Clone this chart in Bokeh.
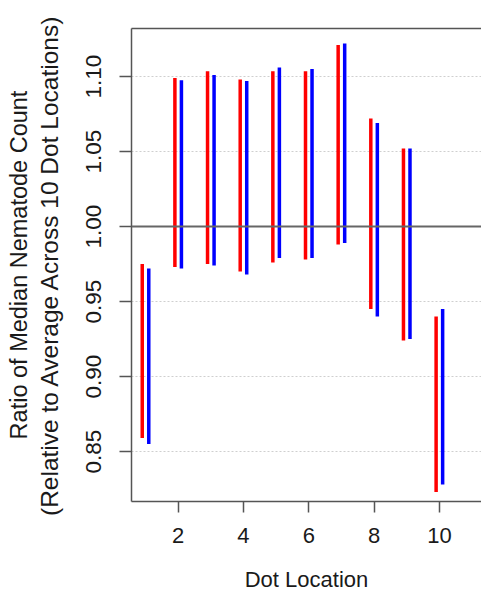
from bokeh.plotting import figure
from bokeh.models import Range1d, FixedTicker, Span, Title, LinearAxis, PrintfTickFormatter
from bokeh.embed import file_html
from bokeh.resources import INLINE

# ---- data ----
locations = [1, 2, 3, 4, 5, 6, 7, 8, 9, 10]
red_low = [0.859, 0.973, 0.975, 0.970, 0.976, 0.978, 0.988, 0.945, 0.924, 0.823]
red_high = [0.975, 1.099, 1.1035, 1.098, 1.1035, 1.1035, 1.121, 1.072, 1.052, 0.940]
blue_low = [0.855, 0.972, 0.974, 0.968, 0.979, 0.979, 0.989, 0.940, 0.925, 0.828]
blue_high = [0.972, 1.0975, 1.101, 1.097, 1.106, 1.105, 1.122, 1.069, 1.052, 0.945]
x_ticks = [2, 4, 6, 8, 10]
y_ticks = [0.85, 0.90, 0.95, 1.00, 1.05, 1.10]
grid_ticks = [0.85, 0.90, 0.95, 1.05, 1.10]
reference_line = 1.00
offset = 0.1

FONT = "Liberation Sans"
AX = "#555555"

p = figure(width=481, height=594,
           x_range=Range1d(0.571, 11.29), y_range=Range1d(0.8167, 1.132),
           output_backend="svg", toolbar_location=None,
           min_border_left=131, min_border_right=0,
           min_border_top=28, min_border_bottom=92)
p.outline_line_color = None
p.background_fill_color = "white"
p.border_fill_color = "white"

p.xgrid.visible = False
p.ygrid.ticker = FixedTicker(ticks=grid_ticks)
p.ygrid.grid_line_color = "#cfcfcf"
p.ygrid.grid_line_dash = "2 2"
p.ygrid.grid_line_width = 1

for ax in (p.xaxis[0], p.yaxis[0]):
    ax.axis_line_color = AX
    ax.axis_line_width = 1.5
    ax.major_tick_line_color = AX
    ax.major_tick_line_width = 1.5
    ax.major_tick_in = 0
    ax.minor_tick_line_color = None
    ax.major_label_text_font = FONT
    ax.major_label_text_color = "#1a1a1a"
    ax.axis_label_text_font = FONT
    ax.axis_label_text_font_style = "normal"
    ax.axis_label_text_color = "#1a1a1a"

p.xaxis.ticker = FixedTicker(ticks=x_ticks)
p.xaxis.major_tick_out = 11
p.xaxis.major_label_standoff = 15
p.xaxis.major_label_text_font_size = "22px"
p.xaxis.axis_label = "Dot Location"
p.xaxis.axis_label_text_font_size = "22px"
p.xaxis.axis_label_standoff = 21

p.yaxis.ticker = FixedTicker(ticks=y_ticks)
p.yaxis.formatter = PrintfTickFormatter(format="%.2f")
p.yaxis.major_tick_out = 12
p.yaxis.major_label_standoff = 18
p.yaxis.major_label_orientation = "parallel"
p.yaxis.major_label_text_font_size = "22.5px"
p.yaxis.axis_label = "(Relative to Average Across 10 Dot Locations)"
p.yaxis.axis_label_text_font_size = "24.5px"
p.yaxis.axis_label_standoff = 21

t1 = Title(text="Ratio of Median Nematode Count", align="center",
           text_font=FONT, text_font_size="23.5px", text_font_style="normal",
           text_color="#1a1a1a", standoff=1)
p.add_layout(t1, "left")

top = LinearAxis(ticker=FixedTicker(ticks=[]), axis_line_color=AX, axis_line_width=1.5,
                 major_tick_line_color=None, minor_tick_line_color=None,
                 major_label_text_font_size="0px")
p.add_layout(top, "above")

p.add_layout(Span(location=reference_line, dimension="width",
                  line_color="#666666", line_width=2))

xr = [x - offset for x in locations]
xb = [x + offset for x in locations]
p.segment(x0=xr, y0=red_low, x1=xr, y1=red_high, line_color="#ff0000", line_width=3.5)
p.segment(x0=xb, y0=blue_low, x1=xb, y1=blue_high, line_color="#0000ff", line_width=3.5)

open("out.html", "w").write(file_html(p, INLINE))
